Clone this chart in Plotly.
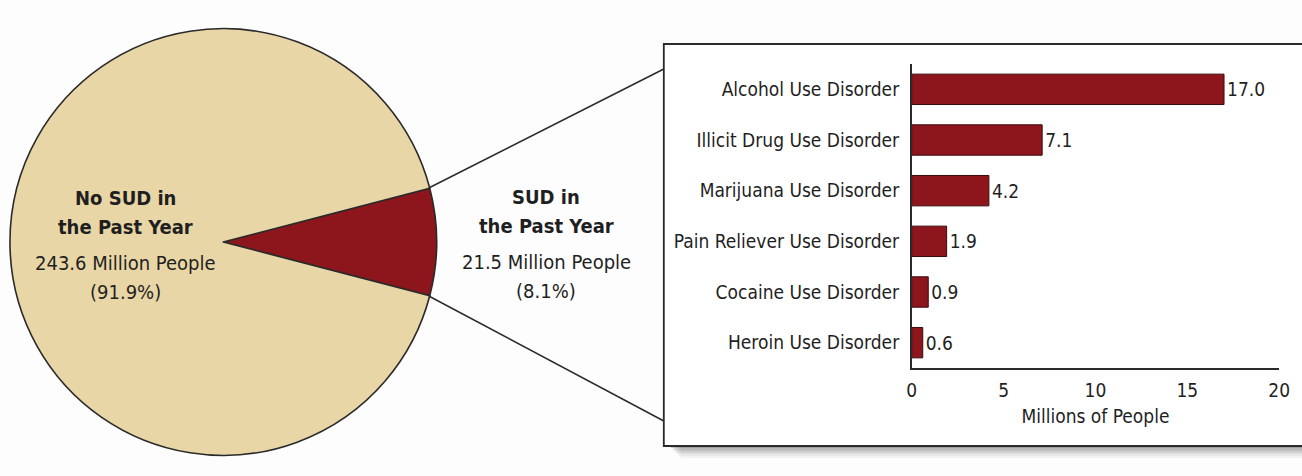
import plotly.graph_objects as go

W, H = 1302, 476

# ---- data ----
pie_labels = ["SUD in the Past Year", "No SUD in the Past Year"]
pie_values = [21.5, 243.6]
pie_pcts = [8.1, 91.9]

categories = [
    "Alcohol Use Disorder",
    "Illicit Drug Use Disorder",
    "Marijuana Use Disorder",
    "Pain Reliever Use Disorder",
    "Cocaine Use Disorder",
    "Heroin Use Disorder",
]
values = [17.0, 7.1, 4.2, 1.9, 0.9, 0.6]
x_ticks = [0, 5, 10, 15, 20]

# ---- styling ----
BEIGE = "#E9D6A6"
RED = "#8C161C"
TXT = "#1f1f1f"
FONT = "Liberation Sans Narrow, DejaVu Sans Condensed, Arial Narrow, sans-serif"


def px(x):
    return min(max(x / W, 0), 1)


def py(y):
    return min(max(1 - y / H, 0), 1)


fig = go.Figure()

# pie: SUD slice centred at 3 o'clock
sud_angle = 360 * pie_values[0] / sum(pie_values)
fig.add_trace(go.Pie(
    labels=pie_labels,
    values=pie_values,
    sort=False,
    direction="clockwise",
    rotation=90 - sud_angle / 2,
    marker=dict(colors=[RED, BEIGE], line=dict(color="#2a2a2a", width=1.6)),
    textinfo="none",
    hoverinfo="label+value+percent",
    showlegend=False,
    domain=dict(x=[px(5), px(437)], y=[py(458), py(26)]),
))

# bars
fig.add_trace(go.Bar(
    x=values,
    y=categories,
    orientation="h",
    marker=dict(color=RED, line=dict(color="#3a0a0c", width=1)),
    width=0.6,
    text=[f"{v:.1f}" for v in values],
    textposition="outside",
    textfont=dict(family=FONT, size=19, color=TXT),
    cliponaxis=False,
    showlegend=False,
))

fig.update_layout(
    width=W, height=H,
    margin=dict(l=0, r=0, t=0, b=0),
    paper_bgcolor="#fdfdfd",
    plot_bgcolor="rgba(0,0,0,0)",
    font=dict(family=FONT, size=19, color=TXT),
    xaxis=dict(
        domain=[px(918), px(1290)],
        range=[0, 20],
        tickvals=x_ticks,
        showgrid=False, zeroline=False,
        showline=True, linecolor="#2a2a2a", linewidth=1.5,
        ticks="", ticklabelstandoff=4,
        tickfont=dict(size=19),
        title=dict(text="Millions of People", font=dict(size=19), standoff=10),
        anchor="y",
        fixedrange=True,
    ),
    yaxis=dict(
        domain=[py(368), py(64)],
        autorange="reversed",
        showgrid=False, zeroline=False,
        showline=True, linecolor="#2a2a2a", linewidth=1.5,
        ticks="", ticklabelstandoff=7,
        tickfont=dict(size=19),
        anchor="x",
        fixedrange=True,
    ),
    bargap=0.4,
)

shapes = []
# soft shadow below the box
for i, op in enumerate([0.06, 0.09, 0.12, 0.16, 0.22]):
    off = 12 - i * 2.5
    shapes.append(dict(type="rect", xref="paper", yref="paper",
                       x0=px(672 + off), x1=1.02, y0=py(446 + off), y1=py(60),
                       fillcolor=f"rgba(70,70,70,{op})", line=dict(width=0),
                       layer="below"))
# box
shapes.append(dict(type="rect", xref="paper", yref="paper",
                   x0=px(667), x1=1.02, y0=py(446), y1=py(44),
                   fillcolor="#ffffff", line=dict(color="#2a2a2a", width=1.8),
                   layer="below"))
# connector lines
shapes.append(dict(type="line", xref="paper", yref="paper",
                   x0=px(429), y0=py(188), x1=px(667), y1=py(69),
                   line=dict(color="#2a2a2a", width=1.5)))
shapes.append(dict(type="line", xref="paper", yref="paper",
                   x0=px(429), y0=py(296), x1=px(667), y1=py(421),
                   line=dict(color="#2a2a2a", width=1.5)))
fig.update_layout(shapes=shapes)

annotations = []


def label_block(xc, ytop, title_lines, num_lines):
    ys = [ytop, ytop + 29, ytop + 65, ytop + 94]
    lines = [(t, True) for t in title_lines] + [(t, False) for t in num_lines]
    for (t, bold), yy in zip(lines, ys):
        annotations.append(dict(
            x=px(xc), y=py(yy), xref="paper", yref="paper",
            text=f"<b>{t}</b>" if bold else t, showarrow=False,
            xanchor="center", yanchor="middle",
            font=dict(family=FONT, size=20, color=TXT),
        ))


label_block(122, 198, ["No SUD in", "the Past Year"],
            [f"{pie_values[1]:.1f} Million People", f"({pie_pcts[1]:.1f}%)"])
label_block(548, 197, ["SUD in", "the Past Year"],
            [f"{pie_values[0]:.1f} Million People", f"({pie_pcts[0]:.1f}%)"])
fig.update_layout(annotations=annotations)

# remove the page's default body margin so the figure fills the window
fig.write_html(
    "out.html",
    config={"displayModeBar": False},
    post_script="document.body.style.margin='0';document.body.style.overflow='hidden';",
)
